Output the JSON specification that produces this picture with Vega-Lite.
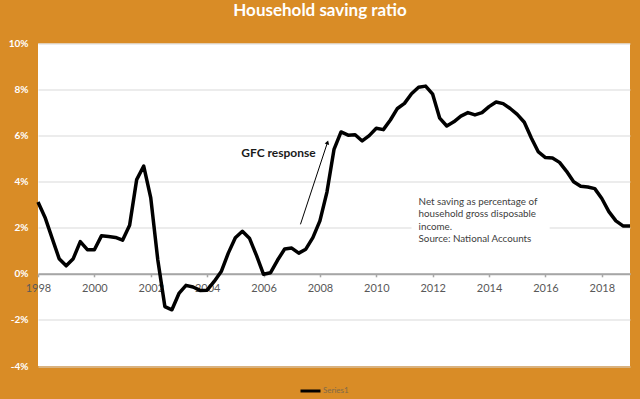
{
  "$schema": "https://vega.github.io/schema/vega-lite/v6.json",
  "width": 592,
  "height": 322.5,
  "autosize": {"type": "none"},
  "padding": {"left": 38, "top": 43.5, "right": 10, "bottom": 33},
  "background": "#D98C26",
  "config": {
    "view": {"fill": "white", "stroke": null},
    "font": "Lato"
  },
  "title": {
    "text": "Household saving ratio",
    "color": "white",
    "font": "Lato",
    "fontSize": 17,
    "fontWeight": "bold",
    "anchor": "middle",
    "dx": -14,
    "offset": 19
  },
  "datasets": {
    "saving": [
      {"year": 1998.00, "ratio": 3.12},
      {"year": 1998.25, "ratio": 2.45},
      {"year": 1998.50, "ratio": 1.55},
      {"year": 1998.75, "ratio": 0.66},
      {"year": 1999.00, "ratio": 0.35},
      {"year": 1999.25, "ratio": 0.66},
      {"year": 1999.50, "ratio": 1.40},
      {"year": 1999.75, "ratio": 1.05},
      {"year": 2000.00, "ratio": 1.05},
      {"year": 2000.25, "ratio": 1.65},
      {"year": 2000.50, "ratio": 1.62},
      {"year": 2000.75, "ratio": 1.58},
      {"year": 2001.00, "ratio": 1.46},
      {"year": 2001.25, "ratio": 2.11},
      {"year": 2001.50, "ratio": 4.09},
      {"year": 2001.75, "ratio": 4.68},
      {"year": 2002.00, "ratio": 3.30},
      {"year": 2002.25, "ratio": 0.60},
      {"year": 2002.50, "ratio": -1.42},
      {"year": 2002.75, "ratio": -1.56},
      {"year": 2003.00, "ratio": -0.85},
      {"year": 2003.25, "ratio": -0.50},
      {"year": 2003.50, "ratio": -0.57},
      {"year": 2003.75, "ratio": -0.72},
      {"year": 2004.00, "ratio": -0.71},
      {"year": 2004.25, "ratio": -0.33},
      {"year": 2004.50, "ratio": 0.10},
      {"year": 2004.75, "ratio": 0.90},
      {"year": 2005.00, "ratio": 1.57},
      {"year": 2005.25, "ratio": 1.85},
      {"year": 2005.50, "ratio": 1.55},
      {"year": 2005.75, "ratio": 0.80},
      {"year": 2006.00, "ratio": -0.02},
      {"year": 2006.25, "ratio": 0.05},
      {"year": 2006.50, "ratio": 0.60},
      {"year": 2006.75, "ratio": 1.08},
      {"year": 2007.00, "ratio": 1.12},
      {"year": 2007.25, "ratio": 0.90},
      {"year": 2007.50, "ratio": 1.07},
      {"year": 2007.75, "ratio": 1.57},
      {"year": 2008.00, "ratio": 2.30},
      {"year": 2008.25, "ratio": 3.55},
      {"year": 2008.50, "ratio": 5.40},
      {"year": 2008.75, "ratio": 6.16},
      {"year": 2009.00, "ratio": 6.02},
      {"year": 2009.25, "ratio": 6.04},
      {"year": 2009.50, "ratio": 5.77},
      {"year": 2009.75, "ratio": 6.00},
      {"year": 2010.00, "ratio": 6.32},
      {"year": 2010.25, "ratio": 6.26},
      {"year": 2010.50, "ratio": 6.68},
      {"year": 2010.75, "ratio": 7.18},
      {"year": 2011.00, "ratio": 7.40},
      {"year": 2011.25, "ratio": 7.82},
      {"year": 2011.50, "ratio": 8.10},
      {"year": 2011.75, "ratio": 8.15},
      {"year": 2012.00, "ratio": 7.80},
      {"year": 2012.25, "ratio": 6.76},
      {"year": 2012.50, "ratio": 6.42},
      {"year": 2012.75, "ratio": 6.60},
      {"year": 2013.00, "ratio": 6.85},
      {"year": 2013.25, "ratio": 7.00},
      {"year": 2013.50, "ratio": 6.90},
      {"year": 2013.75, "ratio": 7.00},
      {"year": 2014.00, "ratio": 7.26},
      {"year": 2014.25, "ratio": 7.46},
      {"year": 2014.50, "ratio": 7.39},
      {"year": 2014.75, "ratio": 7.18},
      {"year": 2015.00, "ratio": 6.92},
      {"year": 2015.25, "ratio": 6.58},
      {"year": 2015.50, "ratio": 5.90},
      {"year": 2015.75, "ratio": 5.29},
      {"year": 2016.00, "ratio": 5.05},
      {"year": 2016.25, "ratio": 5.03},
      {"year": 2016.50, "ratio": 4.84},
      {"year": 2016.75, "ratio": 4.45},
      {"year": 2017.00, "ratio": 4.00},
      {"year": 2017.25, "ratio": 3.80},
      {"year": 2017.50, "ratio": 3.77},
      {"year": 2017.75, "ratio": 3.70},
      {"year": 2018.00, "ratio": 3.27},
      {"year": 2018.25, "ratio": 2.70},
      {"year": 2018.50, "ratio": 2.30},
      {"year": 2018.75, "ratio": 2.08},
      {"year": 2019.00, "ratio": 2.08}
    ],
    "box": [{"x0": 2011.25, "x1": 2016.15, "y0": 1.1, "y1": 3.6}],
    "note": [{"year": 2011.5, "ratio": 3.12, "label": ["Net saving as percentage of", "household gross disposable", "income.", "Source: National Accounts"]}],
    "gfc": [{"year": 2006.53, "ratio": 5.23, "label": "GFC response"}],
    "arrow": [{"x0": 2007.31, "y0": 2.15, "x1": 2008.27, "y1": 5.71}]
  },
  "layer": [
    {
      "data": {"name": "box"},
      "mark": {"type": "rect", "fill": "white"},
      "encoding": {
        "x": {"field": "x0", "type": "quantitative", "scale": {"domain": [1998, 2019]}},
        "x2": {"field": "x1"},
        "y": {"field": "y0", "type": "quantitative", "scale": {"domain": [-4, 10]}},
        "y2": {"field": "y1"}
      }
    },
    {
      "data": {"name": "saving"},
      "mark": {"type": "line", "strokeWidth": 3.5, "strokeJoin": "round"},
      "encoding": {
        "x": {
          "field": "year", "type": "quantitative",
          "scale": {"domain": [1998, 2019], "nice": false, "zero": false},
          "axis": {
            "title": null,
            "values": [1998, 2000, 2002, 2004, 2006, 2008, 2010, 2012, 2014, 2016, 2018],
            "format": "d",
            "offset": -92.2,
            "domainColor": "#A6A6A6",
            "domainWidth": 2,
            "tickColor": "#A6A6A6",
            "tickSize": 3,
            "tickWidth": 1.5,
            "labelColor": "#595959",
            "labelFont": "Lato",
            "labelFontSize": 11,
            "labelPadding": 6,
            "grid": false,
            "labelFlush": false
          }
        },
        "y": {
          "field": "ratio", "type": "quantitative",
          "scale": {"domain": [-4, 10], "nice": false},
          "axis": {
            "title": null,
            "values": [-4, -2, 0, 2, 4, 6, 8, 10],
            "labelExpr": "datum.value + '%'",
            "domain": false,
            "ticks": false,
            "labelColor": "white",
            "labelFont": "Lato",
            "labelFontWeight": "bold",
            "labelFontSize": 10,
            "labelPadding": 10,
            "gridColor": "#D9D9D9",
            "gridWidth": 1
          }
        },
        "color": {
          "datum": "Series1",
          "type": "nominal",
          "scale": {"range": ["black"]},
          "legend": {
            "title": null,
            "orient": "none",
            "legendX": 261,
            "legendY": 336,
            "symbolType": "stroke",
            "symbolSize": 400,
            "symbolStrokeWidth": 3,
            "labelColor": "#7F6A4A",
            "labelFont": "Lato",
            "labelFontSize": 8,
            "labelOffset": 1,
            "padding": 0
          }
        }
      }
    },
    {
      "data": {"name": "arrow"},
      "mark": {"type": "rule", "stroke": "black", "strokeWidth": 1},
      "encoding": {
        "x": {"field": "x0", "type": "quantitative"},
        "y": {"field": "y0", "type": "quantitative"},
        "x2": {"field": "x1"},
        "y2": {"field": "y1"}
      }
    },
    {
      "data": {"name": "arrow"},
      "mark": {"type": "point", "shape": "triangle-up", "filled": true, "fill": "black", "size": 22, "angle": 18, "opacity": 1},
      "encoding": {
        "x": {"field": "x1", "type": "quantitative"},
        "y": {"field": "y1", "type": "quantitative"}
      }
    },
    {
      "data": {"name": "gfc"},
      "mark": {"type": "text", "font": "Lato", "fontSize": 12, "fontWeight": "bold", "color": "#1A1A1A", "align": "center", "baseline": "middle"},
      "encoding": {
        "x": {"field": "year", "type": "quantitative"},
        "y": {"field": "ratio", "type": "quantitative"},
        "text": {"field": "label"}
      }
    },
    {
      "data": {"name": "note"},
      "mark": {"type": "text", "font": "Lato", "fontSize": 9.8, "color": "#404040", "align": "left", "baseline": "middle", "lineHeight": 12.5},
      "encoding": {
        "x": {"field": "year", "type": "quantitative"},
        "y": {"field": "ratio", "type": "quantitative"},
        "text": {"field": "label"}
      }
    }
  ]
}
